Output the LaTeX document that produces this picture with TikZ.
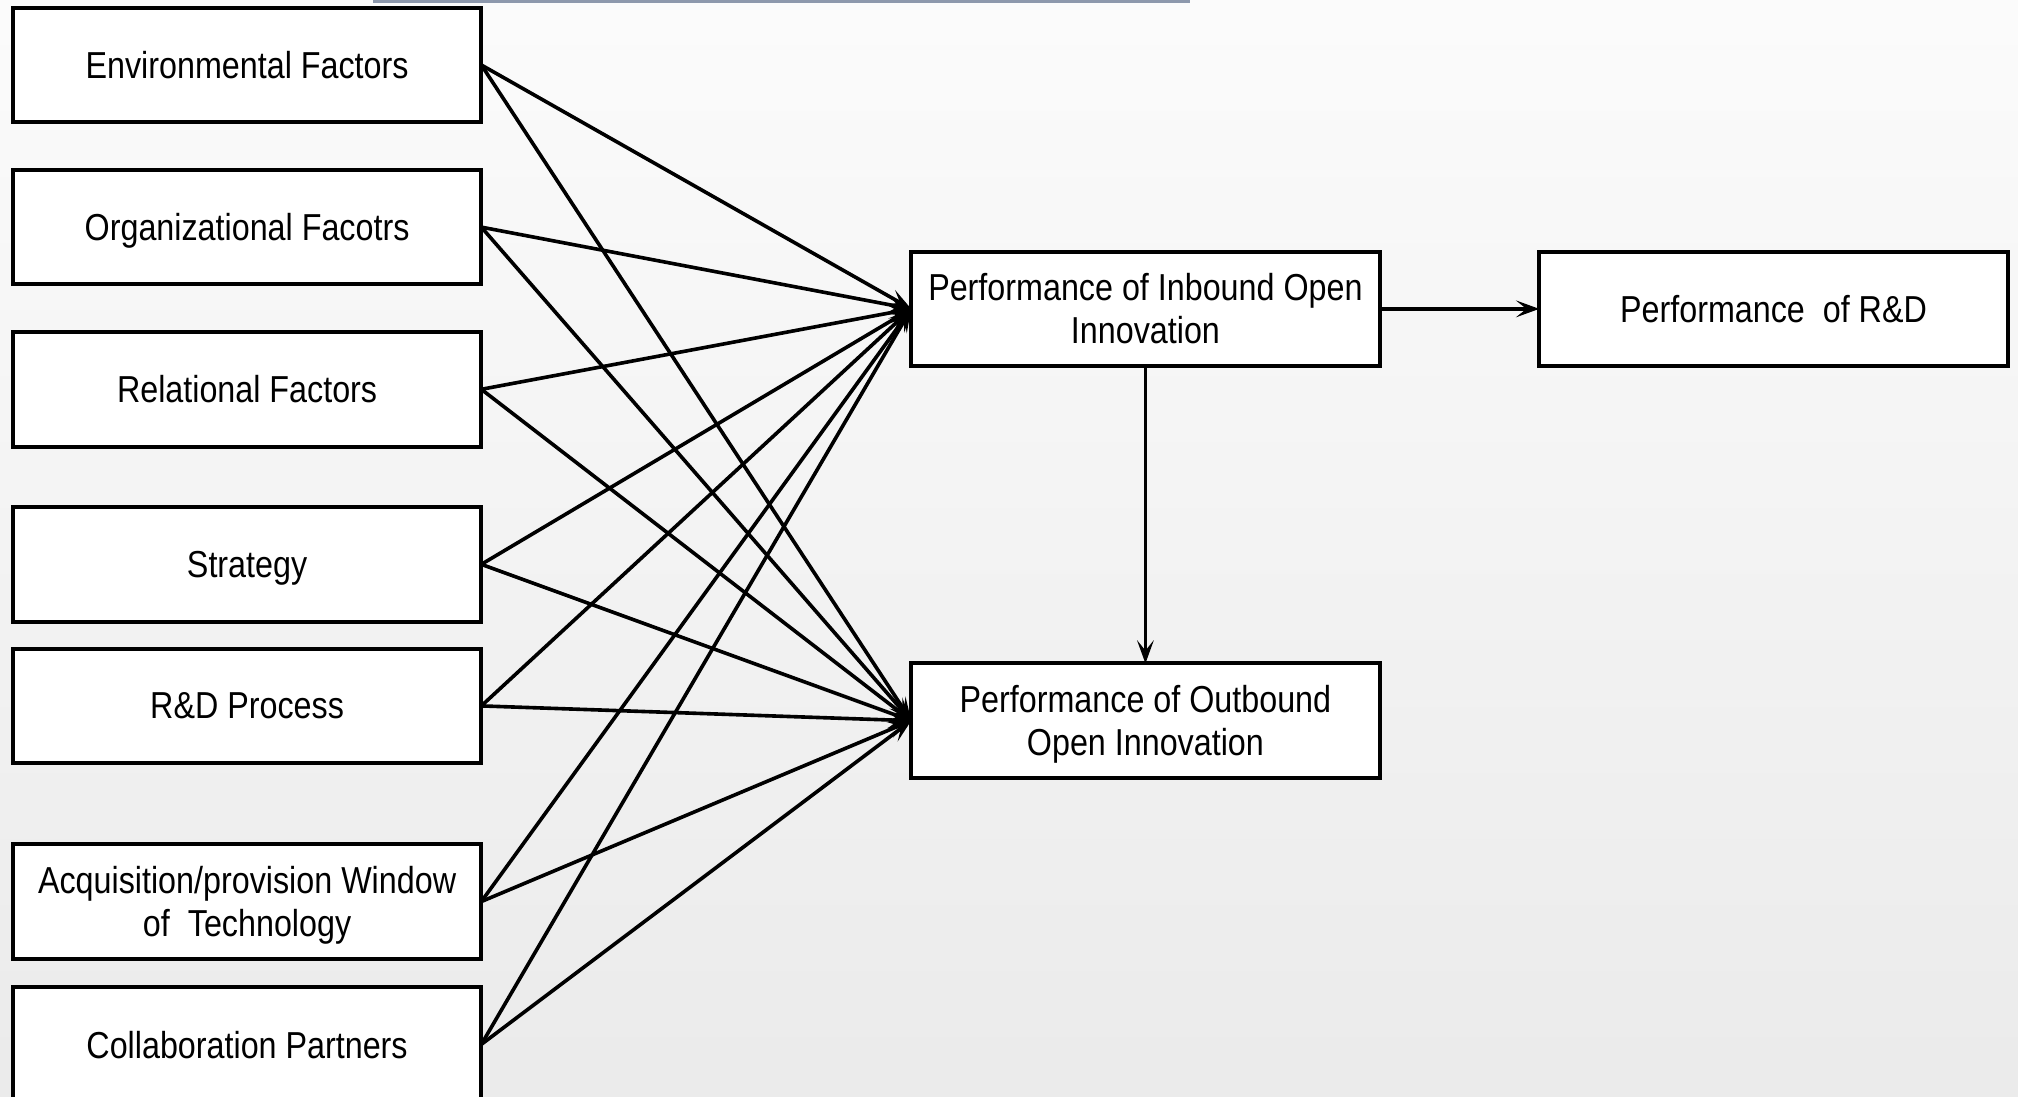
\documentclass[tikz,border=0pt]{standalone}
\usepackage{fontspec}
\setmainfont{Liberation Sans}[FakeStretch=0.86]
\usetikzlibrary{arrows.meta,positioning}

\definecolor{barblue}{RGB}{141,152,172}

\begin{document}
\begin{tikzpicture}[
  font=\fontsize{8.3}{9.5}\selectfont, >={Stealth[length=1.8mm,width=1.3mm,inset=0.8mm]},
  box/.style    = {draw, line width=0.9pt, fill=white, align=center,
                   inner sep=1pt, outer sep=0pt, text depth=0pt,
                   minimum width=3.64cm, minimum height=0.89cm},
  factor/.style = {box},
  perf/.style   = {box},
  link/.style   = {->, line width=0.8pt}
]

% canvas with a soft grey fade
\clip (0,0) rectangle (15.68,-8.52);
\fill[top color=gray!3, bottom color=gray!16] (0,0) rectangle (15.68,-8.52);
\fill[barblue] (2.90,0) rectangle (9.25,-0.025);

% determinants on the left
\node[factor] at (1.92,-0.505) (env) {Environmental Factors};
\node[factor, below=0.37cm of env]   (org)  {Organizational Facotrs};
\node[factor, below=0.37cm of org]   (rel)  {Relational Factors};
\node[factor, below=0.47cm of rel]   (str)  {Strategy};
\node[factor, below=0.21cm of str]   (rdp)  {R\&D Process};
\node[factor, below=0.63cm of rdp]   (acq)  {Acquisition/provision Window\\of\ \ Technology};
\node[factor, below=0.22cm of acq]   (col)  {Collaboration Partners};

% performance outcomes
\node[perf] at (8.90,-2.40) (inb) {Performance of Inbound Open\\Innovation};
\node[perf, below=2.31cm of inb] (outb) {Performance of Outbound\\Open Innovation};
\node[perf, right=1.24cm of inb] (rd)   {Performance\ \ of R\&D};

% every factor feeds both open innovation boxes
\draw[link] (env.east) -- (inb.west);
\draw[link] (env.east) -- (outb.west);
\draw[link] (org.east) -- (inb.west);
\draw[link] (org.east) -- (outb.west);
\draw[link] (rel.east) -- (inb.west);
\draw[link] (rel.east) -- (outb.west);
\draw[link] (str.east) -- (inb.west);
\draw[link] (str.east) -- (outb.west);
\draw[link] (rdp.east) -- (inb.west);
\draw[link] (rdp.east) -- (outb.west);
\draw[link] (acq.east) -- (inb.west);
\draw[link] (acq.east) -- (outb.west);
\draw[link] (col.east) -- (inb.west);
\draw[link] (col.east) -- (outb.west);

\draw[link] (inb.east)  -- (rd.west);
\draw[link] (inb.south) -- (outb.north);

\end{tikzpicture}
\end{document}
